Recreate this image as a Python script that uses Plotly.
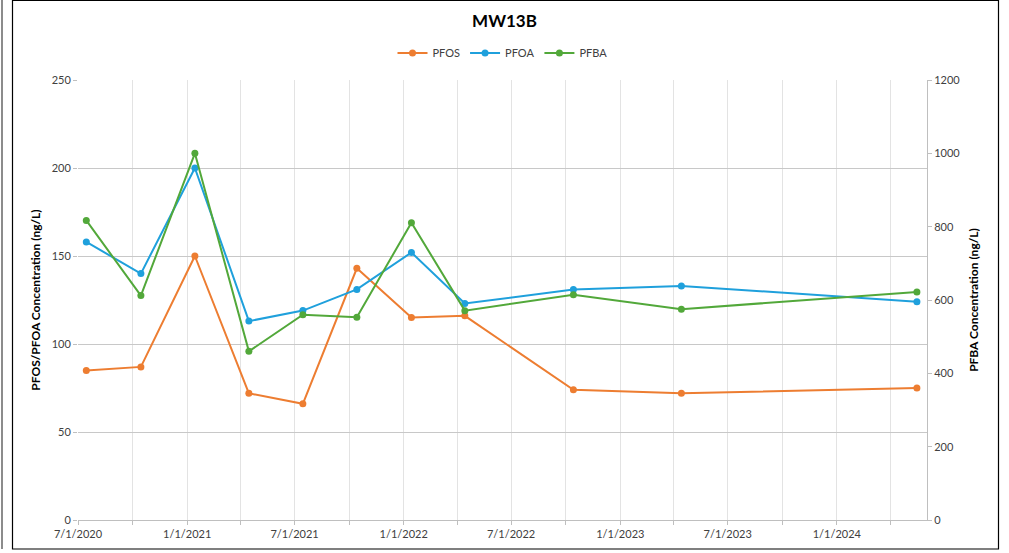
import plotly.graph_objects as go

# Sampling dates (quarterly monitoring, mid-month)
dates = ["2020-07-15", "2020-10-15", "2021-01-14", "2021-04-15", "2021-07-15",
         "2021-10-14", "2022-01-14", "2022-04-14", "2022-10-14", "2023-04-14",
         "2024-05-15"]

# Concentrations in ng/L
pfos = [85, 87, 150, 72, 66, 143, 115, 116, 74, 72, 75]
pfoa = [158, 140, 200, 113, 119, 131, 152, 123, 131, 133, 124]
pfba = [817, 612, 1000, 460, 560, 553, 811, 571, 614, 575, 622]

C_PFOS = "#ED7D31"
C_PFOA = "#1FA0DC"
C_PFBA = "#52A83A"
FONT = "Lato"

fig = go.Figure()
fig.add_trace(go.Scatter(x=dates, y=pfos, name="PFOS", mode="lines+markers",
                         line=dict(color=C_PFOS, width=2),
                         marker=dict(color=C_PFOS, size=7)))
fig.add_trace(go.Scatter(x=dates, y=pfoa, name="PFOA", mode="lines+markers",
                         line=dict(color=C_PFOA, width=2),
                         marker=dict(color=C_PFOA, size=7)))
fig.add_trace(go.Scatter(x=dates, y=pfba, name="PFBA", mode="lines+markers",
                         yaxis="y2",
                         line=dict(color=C_PFBA, width=2),
                         marker=dict(color=C_PFBA, size=7)))

W, H = 1009, 553
L, R, T, B = 78, 82, 80, 33
pw, ph = W - L - R, H - T - B


def px_x(x):
    return (x - L) / pw


def px_y(y):
    return (H - B - y) / ph


tick_font = dict(family=FONT, size=11, color="#404040")

fig.update_layout(
    width=W, height=H,
    margin=dict(l=L, r=R, t=T, b=B, pad=0),
    paper_bgcolor="white", plot_bgcolor="white",
    font=dict(family=FONT, size=11, color="#404040"),
    title=dict(text="<b>MW13B</b>", x=0.5, xref="container", xanchor="center",
               y=1 - 21 / H, yref="container", yanchor="middle",
               font=dict(family=FONT, size=17, color="#000000")),
    legend=dict(orientation="h", x=0.5, xanchor="center", y=px_y(53),
                yanchor="middle", font=dict(family=FONT, size=11, color="#404040"),
                bgcolor="rgba(0,0,0,0)", itemwidth=30, tracegroupgap=0),
    showlegend=True,
    xaxis=dict(
        type="date", range=["2020-07-01", "2024-06-01"],
        tick0="2020-07-01", dtick="M6", tickformat="%-m/%-d/%Y",
        showgrid=True, gridcolor="#E3E3E3", gridwidth=1,
        showline=True, linecolor="#BFBFBF", linewidth=1,
        ticks="outside", ticklen=4, tickcolor="#BFBFBF",
        tickfont=tick_font, zeroline=False,
        minor=dict(tick0="2020-07-01", dtick="M3", showgrid=True,
                   gridcolor="#E3E3E3", gridwidth=1, ticks="outside",
                   ticklen=4, tickcolor="#BFBFBF"),
    ),
    yaxis=dict(
        range=[0, 250], dtick=50, tick0=0,
        showgrid=True, gridcolor="#C8C8C8", gridwidth=1,
        showline=False, zeroline=False,
        ticks="outside", ticklen=4, tickcolor="#BFBFBF",
        tickfont=tick_font,
        title=dict(text="<b>PFOS/PFOA Concentration (ng/L)</b>", standoff=8,
                   font=dict(family=FONT, size=12, color="#000000")),
    ),
    yaxis2=dict(
        range=[0, 1200], dtick=200, tick0=0, overlaying="y", side="right",
        showgrid=False, zeroline=False,
        showline=True, linecolor="#BFBFBF", linewidth=1,
        ticks="outside", ticklen=4, tickcolor="#BFBFBF",
        tickfont=tick_font,
        title=dict(text="<b>PFBA Concentration (ng/L)</b>", standoff=10,
                   font=dict(family=FONT, size=12, color="#000000")),
    ),
    shapes=[
        # chart frame
        dict(type="rect", xref="paper", yref="paper",
             x0=px_x(12.5), x1=px_x(998.5), y0=px_y(549), y1=px_y(0.5),
             line=dict(color="#000000", width=1.2), fillcolor="rgba(0,0,0,0)",
             layer="above"),
        # edge line on the far left
        dict(type="line", xref="paper", yref="paper",
             x0=px_x(2), x1=px_x(2), y0=px_y(549), y1=px_y(0),
             line=dict(color="#8C8C8C", width=2), layer="above"),
    ],
)

fig.write_html("out.html")
